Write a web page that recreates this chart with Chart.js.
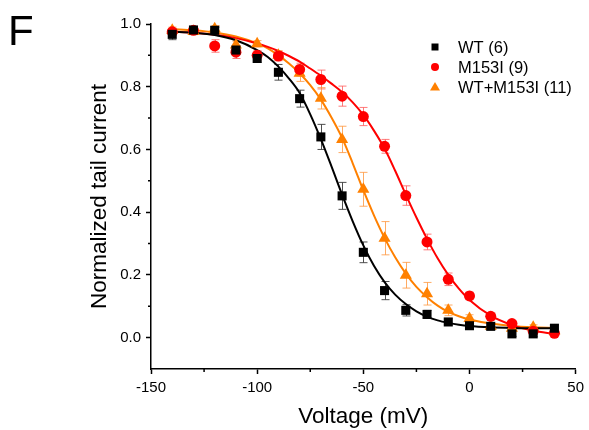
<!DOCTYPE html>
<html lang="en">
<head>
<meta charset="UTF-8">
<title>Normalized tail current</title>
<script src="https://cdn.jsdelivr.net/npm/chart.js@4.4.0/dist/chart.umd.min.js"></script>
<style>
    body { margin: 0; background: #fff; }
</style>
</head>
<body>
<canvas id="myChart" width="589" height="430"></canvas>
<script>
// measured points
const voltages = [-140, -130, -120, -110, -100, -90, -80, -70, -60, -50, -40, -30, -20, -10, 0, 10, 20, 30, 40];
const wtMean   = [0.967, 0.981, 0.98, 0.917, 0.89, 0.846, 0.762, 0.64, 0.452, 0.272, 0.150, 0.087, 0.074, 0.050, 0.038, 0.036, 0.012, 0.012, 0.030];
const wtErr    = [0.017, 0.01, 0.01, 0.012, 0.012, 0.025, 0.027, 0.04, 0.043, 0.033, 0.029, 0.018, 0.013, 0.01, 0.008, 0.008, 0.008, 0.008, 0.01];
const m153Mean = [0.975, 0.98, 0.93, 0.91, 0.90, 0.898, 0.855, 0.823, 0.77, 0.705, 0.61, 0.453, 0.305, 0.186, 0.133, 0.068, 0.045, 0.02, 0.014];
const m153Err  = [0.01, 0.01, 0.02, 0.02, 0.015, 0.015, 0.02, 0.03, 0.032, 0.029, 0.022, 0.031, 0.025, 0.02, 0.012, 0.01, 0.008, 0.008, 0.008];
const mixMean  = [0.98, 0.976, 0.985, 0.933, 0.937, 0.90, 0.843, 0.763, 0.632, 0.473, 0.317, 0.199, 0.14, 0.087, 0.061, 0.036, 0.03, 0.033, 0.022];
const mixErr   = [0.01, 0.01, 0.01, 0.012, 0.01, 0.015, 0.026, 0.034, 0.042, 0.054, 0.053, 0.041, 0.036, 0.017, 0.012, 0.01, 0.008, 0.008, 0.008];

// fitted curves
const fitV    = [-140, -130, -120, -110, -100, -95, -90, -85, -80, -75, -70, -65, -60, -55, -50, -45, -40, -35, -30, -25, -20, -15, -10, -5, 0, 10, 20, 30, 40];
const wtFit   = [0.975, 0.972, 0.965, 0.948, 0.917, 0.895, 0.864, 0.826, 0.78, 0.712, 0.633, 0.546, 0.456, 0.371, 0.294, 0.229, 0.177, 0.137, 0.107, 0.084, 0.067, 0.055, 0.047, 0.041, 0.037, 0.033, 0.031, 0.03, 0.03];
const m153Fit = [0.975, 0.972, 0.966, 0.955, 0.938, 0.927, 0.914, 0.898, 0.88, 0.858, 0.835, 0.81, 0.783, 0.75, 0.71, 0.66, 0.603, 0.532, 0.456, 0.383, 0.315, 0.253, 0.2, 0.156, 0.12, 0.07, 0.04, 0.022, 0.012];
const mixFit  = [0.984, 0.98, 0.973, 0.96, 0.938, 0.922, 0.90, 0.874, 0.843, 0.805, 0.759, 0.702, 0.637, 0.556, 0.47, 0.39, 0.318, 0.256, 0.204, 0.162, 0.129, 0.102, 0.082, 0.068, 0.058, 0.045, 0.037, 0.033, 0.031];

const labels = ['WT (6)', 'M153I (9)', 'WT+M153I (11)'];
const xTicks = [-150, -100, -50, 0, 50];
const xMinor = [-125, -75, -25, 25];
const yTicks = [0, 0.2, 0.4, 0.6, 0.8, 1.0];
const yMinor = [0.1, 0.3, 0.5, 0.7, 0.9];

const FONT = "'Liberation Sans', Arial, sans-serif";

function pts(xs, ys) {
    return xs.map((x, i) => ({ x: x, y: ys[i] }));
}

function scatterSet(label, ys, errs, color, errColor, style, r) {
    return {
        type: 'scatter',
        label: label,
        data: pts(voltages, ys),
        errors: errs,
        errColor: errColor,
        backgroundColor: color,
        borderColor: color,
        borderWidth: 0,
        pointStyle: style,
        pointRadius: r,
        pointHoverRadius: r,
        clip: false
    };
}

function fitSet(ys, color) {
    return {
        type: 'line',
        data: pts(fitV, ys),
        borderColor: color,
        borderWidth: 2,
        pointRadius: 0,
        fill: false,
        cubicInterpolationMode: 'monotone',
        clip: false
    };
}

const errorBars = {
    id: 'errorBars',
    beforeDatasetsDraw(chart) {
        const ctx = chart.ctx;
        const ys = chart.scales.y;
        ctx.save();
        ctx.lineWidth = 1;
        chart.data.datasets.forEach((ds, i) => {
            if (!ds.errors) return;
            const meta = chart.getDatasetMeta(i);
            ctx.strokeStyle = ds.errColor;
            meta.data.forEach((el, j) => {
                const v = ds.data[j].y, e = ds.errors[j];
                const top = ys.getPixelForValue(v + e);
                const bot = ys.getPixelForValue(v - e);
                const x = Math.round(el.x) + 0.5;
                ctx.beginPath();
                ctx.moveTo(x, top); ctx.lineTo(x, bot);
                ctx.moveTo(x - 4, top); ctx.lineTo(x + 4, top);
                ctx.moveTo(x - 4, bot); ctx.lineTo(x + 4, bot);
                ctx.stroke();
            });
        });
        ctx.restore();
    }
};

const extras = {
    id: 'extras',
    afterDraw(chart) {
        const ctx = chart.ctx;
        const xs = chart.scales.x, ys = chart.scales.y;
        const area = chart.chartArea;
        ctx.save();
        // minor ticks
        ctx.strokeStyle = '#000';
        ctx.lineWidth = 1.5;
        ctx.beginPath();
        xMinor.forEach(v => {
            const px = xs.getPixelForValue(v);
            ctx.moveTo(px, area.bottom); ctx.lineTo(px, area.bottom + 3);
        });
        yMinor.forEach(v => {
            const py = ys.getPixelForValue(v);
            ctx.moveTo(area.left, py); ctx.lineTo(area.left - 3, py);
        });
        ctx.stroke();

        // panel letter
        ctx.fillStyle = '#000';
        ctx.font = '42px ' + FONT;
        ctx.textBaseline = 'alphabetic';
        ctx.fillText('F', 8, 45);

        // legend
        const lx = area.left + 284, tx = area.left + 307;
        const rows = [47, 67, 87];
        ctx.font = '16.5px ' + FONT;
        ctx.textBaseline = 'middle';
        chart.data.datasets.forEach((ds, i) => {
            if (!ds.label) return;
            const y = rows[i];
            ctx.fillStyle = ds.backgroundColor;
            ctx.beginPath();
            if (ds.pointStyle === 'rect') {
                ctx.rect(lx - 3.5, y - 3.5, 7, 7);
            } else if (ds.pointStyle === 'circle') {
                ctx.arc(lx, y, 4, 0, Math.PI * 2);
            } else {
                ctx.moveTo(lx, y - 5); ctx.lineTo(lx + 5, y + 3.5); ctx.lineTo(lx - 5, y + 3.5); ctx.closePath();
            }
            ctx.fill();
            ctx.fillStyle = '#000';
            ctx.fillText(ds.label, tx, y + 1);
        });
        ctx.restore();
    }
};

const ctx = document.getElementById('myChart').getContext('2d');
const myChart = new Chart(ctx, {
    data: {
        datasets: [
            scatterSet(labels[0], wtMean, wtErr, '#000000', 'rgba(60,60,60,0.9)', 'rect', 6.4),
            scatterSet(labels[1], m153Mean, m153Err, '#ff0000', 'rgba(255,90,90,0.8)', 'circle', 5.5),
            scatterSet(labels[2], mixMean, mixErr, '#ff8000', 'rgba(255,150,60,0.8)', 'triangle', 7),
            fitSet(wtFit, '#000000'),
            fitSet(m153Fit, '#ff0000'),
            fitSet(mixFit, '#ff8000')
        ]
    },
    options: {
        responsive: false,
        animation: false,
        layout: { padding: { left: 86, top: 24, right: 10, bottom: 0 } },
        plugins: {
            legend: { display: false },
            tooltip: { enabled: false }
        },
        scales: {
            x: {
                type: 'linear',
                min: -150,
                max: 50,
                afterBuildTicks: (s) => { s.ticks = xTicks.map(v => ({ value: v })); },
                afterFit: (s) => { s.height = 61; },
                grid: { drawOnChartArea: false, drawTicks: true, tickLength: 5, tickWidth: 1.5, tickColor: '#000' },
                border: { display: true, color: '#000', width: 1.5 },
                ticks: { color: '#000', font: { family: FONT, size: 15 }, padding: 5, maxRotation: 0 },
                title: { display: true, text: 'Voltage (mV)', color: '#000', font: { family: FONT, size: 22.5 }, padding: 0 }
            },
            y: {
                type: 'linear',
                min: -0.1,
                max: 1.0,
                afterBuildTicks: (s) => { s.ticks = yTicks.map(v => ({ value: v })); },
                afterFit: (s) => { s.width = 65; },
                grid: { drawOnChartArea: false, drawTicks: true, tickLength: 5, tickWidth: 1.5, tickColor: '#000' },
                border: { display: true, color: '#000', width: 1.5 },
                ticks: { color: '#000', font: { family: FONT, size: 15 }, padding: 5, callback: (v) => Number(v).toFixed(1) },
                title: { display: true, text: 'Normalized tail current', color: '#000', font: { family: FONT, size: 22.5 }, padding: 0 }
            }
        }
    },
    plugins: [errorBars, extras]
});
</script>
</body>
</html>
